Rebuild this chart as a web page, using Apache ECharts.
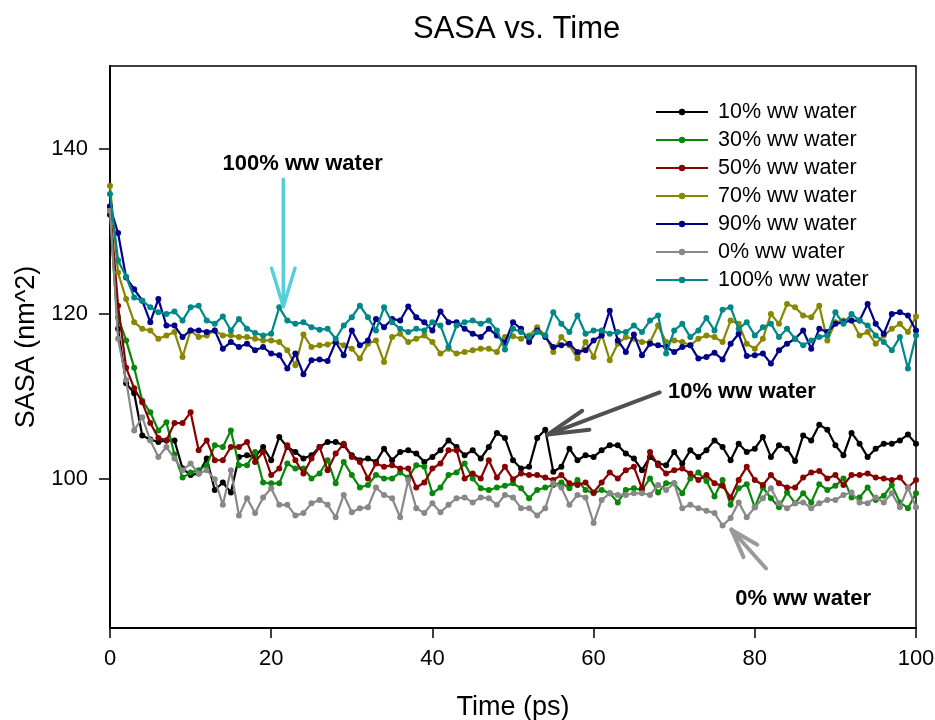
<!DOCTYPE html>
<html>
<head>
<meta charset="utf-8">
<title>SASA vs. Time</title>
<script src="https://cdn.jsdelivr.net/npm/echarts@6/dist/echarts.min.js"></script>
<style>
  html, body { margin: 0; padding: 0; background: #ffffff; }
  #chart { width: 935px; height: 720px; }
</style>
</head>
<body>
<div id="chart"></div>
<script>
// Solvent-accessible surface area (nm^2) sampled every 1 ps, 0..100 ps
const timePs = Array.from({ length: 101 }, (_, i) => i);

const sasa10 = [132, 118.2, 111.6, 110.4, 105.3, 104.8, 104.5, 104.7, 104.7, 101.3,
  100.5, 100.7, 102.5, 98.7, 99.6, 98.4, 102.7, 102.9, 102.7, 103.9,
  102.3, 105.1, 103.9, 103.3, 102.5, 102.9, 103.9, 104.5, 104.5, 104.1,
  102.9, 102.3, 102.5, 102.1, 103.7, 102.3, 103.3, 103.5, 103.1, 102.1,
  102.7, 103.5, 104.7, 103.9, 102.9, 103.5, 102.5, 103.9, 105.6, 105,
  102.3, 101.3, 101.5, 105, 106, 100.9, 101.5, 103.7, 102.3, 102.9,
  102.7, 103.5, 104.1, 104.1, 103.1, 102.5, 101.1, 102.7, 101.9, 101.7,
  103.3, 101.9, 103.5, 102.7, 103.5, 104.7, 103.9, 102.3, 104.3, 103.3,
  103.7, 105.1, 102.7, 104.1, 103.7, 102.2, 105.3, 104.7, 106.6, 106,
  104.1, 102.9, 105.6, 104.3, 102.7, 103.7, 104.3, 104.3, 104.7, 105.4,
  104.3];

const sasa30 = [132.5, 119.6, 116.8, 113.5, 109.5, 108.1, 105.9, 106.9, 103, 100.2,
  100.8, 101.1, 101.7, 104.1, 103.9, 105.9, 101.7, 101.7, 103.3, 99.6,
  99.5, 99.5, 101.9, 101.3, 101.3, 100.1, 100.7, 102.3, 99.5, 102.1,
  100.5, 99, 99.3, 100.5, 100.1, 100.1, 100.8, 100.2, 101.7, 101.5,
  98.3, 99, 100.5, 100.8, 101.9, 100.1, 98.9, 98.7, 99, 99.2,
  99.5, 98.9, 97.7, 98.7, 99, 99.3, 99.6, 98.9, 99.9, 98.7,
  98.3, 98.7, 98.3, 97.2, 98.7, 98.9, 98.7, 100.1, 98.4, 99.5,
  99.5, 98.3, 100.1, 100.8, 99.8, 97.9, 99.9, 96.9, 98.9, 99.4,
  96.6, 99, 97.7, 96.6, 98.4, 97.1, 98.3, 97.2, 99.4, 98.7,
  99.2, 100.1, 97.8, 97.8, 99, 97.5, 98, 99.3, 97.2, 96.5,
  98.3];

const sasa50 = [133, 121, 113.5, 111, 109.3, 106.8, 105, 104.7, 106.8, 106.8,
  108.1, 103.5, 104.7, 102.3, 102.3, 103.9, 103.9, 104.5, 102.1, 103.3,
  100.5, 101.3, 104.1, 102.3, 100.7, 102.5, 103.9, 101.1, 103.1, 104.3,
  102.7, 102.1, 100.1, 101.9, 101.5, 101.7, 101.3, 101.3, 99, 99.6,
  101.3, 101.9, 103.5, 103.5, 100.1, 100.7, 100.1, 102.3, 100.2, 101.5,
  100, 100.7, 100.5, 100.5, 100.2, 99.9, 100.5, 99.5, 99.3, 99.6,
  98.4, 99.6, 100.8, 100.1, 101.1, 101.5, 98.9, 103.3, 101.7, 100.7,
  101.1, 101.3, 100.7, 99.9, 100.5, 99.5, 99.2, 97.8, 99.9, 101.5,
  99.9, 99.3, 100.5, 99.5, 99, 99, 100.2, 100.8, 101, 100.1,
  100.5, 99.3, 100.5, 100.5, 100.7, 100.2, 100.1, 99.9, 100.2, 99,
  99.9];

const sasa70 = [135.5, 125, 121.8, 119, 118.2, 118, 117, 117.4, 117.8, 114.8,
  118, 117.2, 117.4, 118, 117.4, 117.4, 117.2, 117.2, 117, 116.8,
  116.8, 116.6, 115.6, 113.8, 117.5, 116, 116.2, 116.3, 116.6, 116.2,
  115.8, 114.6, 116.4, 116.8, 114.2, 117.2, 117.6, 116.6, 117, 117.4,
  116.6, 115.2, 115.8, 115.2, 115.4, 115.6, 115.8, 115.8, 115.4, 117.2,
  117.3, 117, 117.4, 118.4, 117.4, 115.4, 117.2, 116.2, 114.6, 116.6,
  114.8, 117.6, 114.4, 116.4, 117.2, 117, 116.6, 116.6, 118.6, 116.6,
  116.8, 116.6, 116.2, 117, 117.4, 117.2, 116.6, 119.2, 118.8, 116.4,
  115.8, 117, 120, 118.8, 121.2, 120.8, 119.8, 119.6, 121, 116.8,
  119, 119.2, 119.2, 117.4, 117.8, 116.4, 117.4, 118.2, 118.8, 117.8,
  119.7];

const sasa90 = [133, 129.8, 124.4, 123, 121.6, 119, 121.8, 118.6, 118.6, 117.2,
  118, 118, 117.8, 118, 115.8, 116.6, 116, 116.4, 115.6, 116,
  115.2, 115, 113.4, 115.2, 112.7, 114.4, 114.5, 114.3, 116.6, 115,
  118, 116.2, 116.8, 119.4, 118.4, 119.4, 119.2, 120.9, 119.6, 119,
  118, 120.3, 119, 119, 118.2, 117.6, 117.2, 118.2, 117.4, 116.5,
  119, 118.2, 116.6, 118, 117.2, 116, 116.2, 116.4, 115.4, 115.6,
  116.8, 117.4, 120.4, 116.8, 115.4, 117.5, 115, 116.4, 116.2, 116,
  115.4, 116, 116.2, 114.6, 114.8, 115.3, 114.5, 116.4, 117.6, 114.9,
  115, 115.2, 114, 115.6, 116.4, 117, 118, 115.8, 118.2, 117.8,
  118.8, 119, 119.2, 119.2, 121.2, 118.8, 117.6, 120, 120.2, 119.8,
  118];

const sasa0 = [132.5, 117, 112, 105.9, 107.5, 104.7, 102.7, 103.9, 102.5, 101.1,
  101.9, 100.7, 101.1, 100, 96.9, 101.1, 95.6, 97.7, 95.9, 97.8,
  98.9, 96.9, 96.9, 95.6, 95.9, 97.1, 97.5, 96.9, 95.4, 98.1,
  96, 96.5, 96.6, 99, 98.1, 97.7, 95.4, 99.9, 96.5, 95.9,
  97.1, 96, 96.9, 97.7, 97.8, 97.2, 97.8, 97.7, 96.9, 98.1,
  97.8, 96.5, 96.5, 95.6, 96.5, 99.5, 99, 96.9, 98.1, 97.8,
  94.7, 97.5, 98.3, 98.1, 98.1, 98.3, 98.3, 98.1, 99.3, 98.7,
  99.5, 96.5, 96.9, 96.5, 96.2, 95.9, 94.4, 95.3, 97.2, 95.4,
  96.6, 97.7, 98.9, 97.1, 96.5, 97.1, 97.2, 96.5, 97.1, 97.5,
  97.5, 98.1, 98.4, 97.2, 97.1, 97.8, 97.2, 98.3, 96.6, 99,
  96.6];

const sasa100 = [134.5, 126.5, 124.5, 122, 121.6, 120.8, 120.2, 120, 120.3, 119.2,
  120.8, 121, 119.2, 118.8, 119.7, 118, 119.4, 118.2, 117.7, 117.4,
  117.6, 120.8, 119.2, 118.8, 119, 118.4, 118.1, 118.2, 117, 118.6,
  119.6, 121, 119.6, 118, 120.8, 119, 118.2, 117.8, 118.2, 118,
  119, 118.6, 116, 118.6, 119, 119.2, 118.8, 119.2, 118, 115.7,
  118.2, 117.8, 117.2, 117.8, 117.4, 120.2, 118.8, 117.8, 119.8, 117.6,
  118, 118, 117.6, 117.8, 117.8, 118.6, 117.8, 119.2, 119.8, 115.2,
  118, 118.8, 117.2, 118, 119.5, 118, 120.5, 120.8, 118.2, 119,
  117.4, 118.4, 118.8, 117.2, 118.2, 117, 116.2, 116.8, 117.2, 117.4,
  120.2, 118.8, 120, 119.2, 118.6, 117.4, 116.6, 115.6, 117.2, 113.4,
  117.4];

const seriesLabels = ['10% ww water', '30% ww water', '50% ww water', '70% ww water',
  '90% ww water', '0% ww water', '100% ww water'];
const seriesValues = [sasa10, sasa30, sasa50, sasa70, sasa90, sasa0, sasa100];
const seriesColors = ['#000000', '#0a870a', '#880000', '#888800', '#000088', '#888888', '#008888'];

const yTickValues = [100, 120, 140];

const FONT = '"Liberation Sans", Arial, Helvetica, sans-serif';

// Callouts pinned in data coordinates (time, SASA)
const callouts = [
  { text: '100% ww water', label: [23.9, 138.2], tail: [21.5, 136.3], tip: [21.5, 120.9],
    color: '#55cfd8', width: 3.5, head: 40, spread: 17 },
  { text: '10% ww water', label: [78.4, 110.6], tail: [68.2, 110.5], tip: [54.3, 105.4],
    color: '#505050', width: 4, head: 42, spread: 14 },
  { text: '0% ww water', label: [86.0, 85.5], tail: [81.4, 89.2], tip: [77.1, 93.9],
    color: '#9a9a9a', width: 4, head: 30, spread: 18 }
];

const chart = echarts.init(document.getElementById('chart'), null, { renderer: 'canvas' });

const series = seriesLabels.map((name, k) => ({
  name,
  type: 'line',
  data: seriesValues[k].map((v, i) => [timePs[i], v]),
  symbol: 'circle',
  symbolSize: 6,
  showSymbol: true,
  itemStyle: { color: seriesColors[k] },
  lineStyle: { color: seriesColors[k], width: 2.2 },
  emphasis: { disabled: true },
  animation: false,
  z: 2 + k
}));

chart.setOption({
  backgroundColor: '#ffffff',
  animation: false,
  title: {
    text: 'SASA vs. Time',
    left: 408,
    top: 9,
    textStyle: { fontFamily: FONT, fontSize: 31, fontWeight: 'normal', color: '#000' }
  },
  grid: {
    left: 110, right: 19, top: 66, bottom: 92,
    outerBoundsMode: 'none',
    containLabel: false,
    show: true, borderColor: '#000', borderWidth: 1.5, backgroundColor: 'transparent'
  },
  legend: {
    orient: 'vertical',
    left: 650,
    top: 96,
    itemWidth: 52,
    itemHeight: 8,
    itemGap: 6,
    data: seriesLabels,
    textStyle: { fontFamily: FONT, fontSize: 21.5, color: '#000', lineHeight: 22, padding: [0, 0, 0, 5] },
    selectedMode: false
  },
  xAxis: {
    type: 'value',
    min: 0, max: 100, interval: 20,
    name: 'Time (ps)',
    nameLocation: 'middle',
    nameGap: 66,
    nameTextStyle: { fontFamily: FONT, fontSize: 27, color: '#000' },
    axisLine: { show: true, lineStyle: { color: '#000', width: 2 } },
    axisTick: { show: true, inside: false, length: 10, lineStyle: { color: '#000', width: 1.5 } },
    axisLabel: { fontFamily: FONT, fontSize: 22, color: '#000', margin: 20 },
    splitLine: { show: false }
  },
  yAxis: {
    type: 'value',
    min: 82, max: 150,
    name: 'SASA (nm^2)',
    nameLocation: 'middle',
    nameRotate: 90,
    nameGap: 69,
    nameTextStyle: { fontFamily: FONT, fontSize: 27, color: '#000' },
    axisLine: { show: true, lineStyle: { color: '#000', width: 2 } },
    axisTick: { show: true, inside: false, length: 11, customValues: yTickValues,
      lineStyle: { color: '#000', width: 1.5 } },
    axisLabel: { fontFamily: FONT, fontSize: 22, color: '#000', margin: 22, customValues: yTickValues },
    splitLine: { show: false }
  },
  series
});

// Arrows and their captions, placed through the chart's own coordinate system
function arrowGraphics(c, idx) {
  const tail = chart.convertToPixel({ gridIndex: 0 }, c.tail);
  const tip = chart.convertToPixel({ gridIndex: 0 }, c.tip);
  const lbl = chart.convertToPixel({ gridIndex: 0 }, c.label);
  const ang = Math.atan2(tail[1] - tip[1], tail[0] - tip[0]);
  const style = { stroke: c.color, lineWidth: c.width, lineCap: 'round' };
  const items = [
    { type: 'line', id: 'shaft' + idx, shape: { x1: tail[0], y1: tail[1], x2: tip[0], y2: tip[1] }, style, z: 50 }
  ];
  [-1, 1].forEach((s, j) => {
    const a = ang + s * c.spread * Math.PI / 180;
    items.push({
      type: 'line', id: 'head' + idx + '_' + j,
      shape: { x1: tip[0], y1: tip[1], x2: tip[0] + c.head * Math.cos(a), y2: tip[1] + c.head * Math.sin(a) },
      style, z: 50
    });
  });
  items.push({
    type: 'text', id: 'label' + idx, x: lbl[0], y: lbl[1], z: 51,
    style: { text: c.text, fontFamily: FONT, fontSize: 22, fontWeight: 'bold', fill: '#000',
      align: 'center', verticalAlign: 'middle' }
  });
  return items;
}

chart.setOption({ graphic: callouts.flatMap(arrowGraphics) });
</script>
</body>
</html>
